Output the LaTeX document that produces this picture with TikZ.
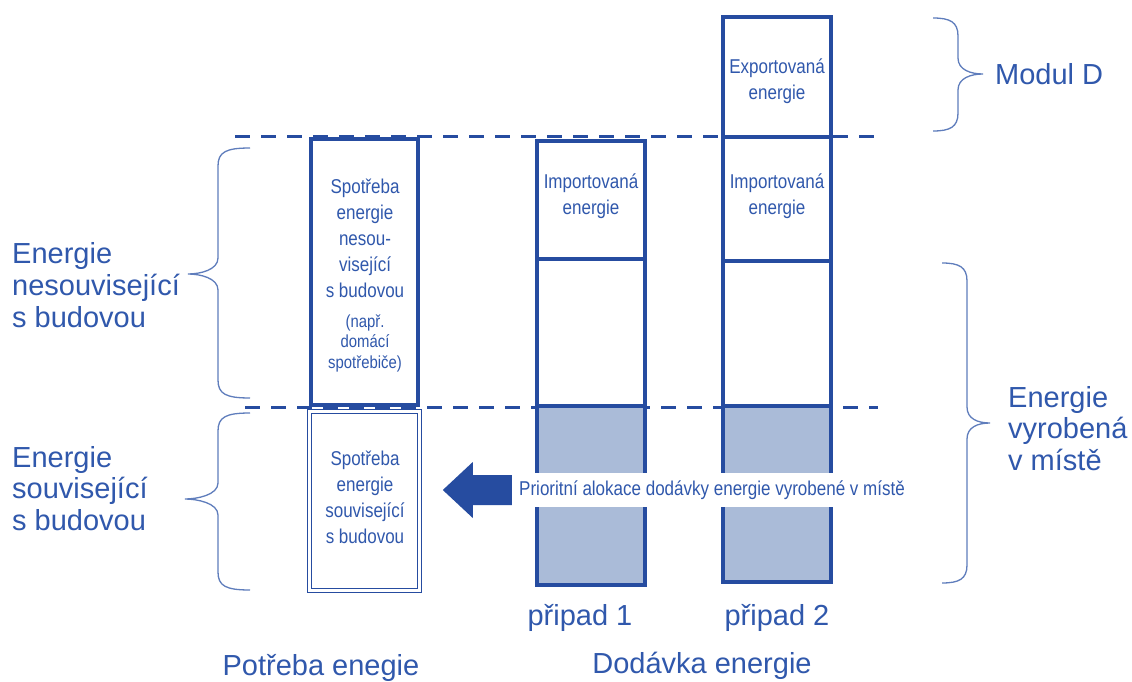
\documentclass[tikz,border=0pt]{standalone}
\usepackage{fontspec}
\setmainfont{Liberation Sans}
\newfontfamily\narrowfont[FakeStretch=0.85]{Liberation Sans}
\definecolor{lc}{RGB}{38,76,160}
\definecolor{tc}{RGB}{48,88,172}
\definecolor{fc}{RGB}{170,187,216}
\definecolor{bc}{RGB}{95,125,188}
\newcommand\myBraceL[6]{%
  \draw[brace] (#1,#4) .. controls (#2+8,#4) and (#2,#4+4) .. (#2,#4+18)
    -- (#2,#5-16) .. controls (#2,#5-4) and (#3+12,#5) .. (#3,#5)
    .. controls (#3+12,#5) and (#2,#5+4) .. (#2,#5+16)
    -- (#2,#6-18) .. controls (#2,#6-4) and (#2+8,#6) .. (#1,#6);}
\newcommand\myBraceR[6]{%
  \draw[brace] (#1,#4) .. controls (#2-8,#4) and (#2,#4+4) .. (#2,#4+18)
    -- (#2,#5-16) .. controls (#2,#5-4) and (#3-12,#5) .. (#3,#5)
    .. controls (#3-12,#5) and (#2,#5+4) .. (#2,#5+16)
    -- (#2,#6-18) .. controls (#2,#6-4) and (#2-8,#6) .. (#1,#6);}
\begin{document}
\begin{tikzpicture}[x=1pt,y=-1pt,
  colbox/.style={draw=lc,line width=4.4pt,fill=white,inner sep=0pt},
  genbox/.style={draw=lc,line width=4.4pt,fill=fc,inner sep=0pt},
  dblbox/.style={draw=lc,double=white,line width=1.4pt,double distance=2.4pt,inner sep=0pt},
  dline/.style={draw=lc,line width=3pt,dash pattern=on 15pt off 11pt},
  brace/.style={draw=bc,line width=1.3pt},
  big/.style={text=tc,font=\fontsize{29}{32}\selectfont,inner sep=0pt},
  small/.style={text=tc,font=\narrowfont\fontsize{20}{26}\selectfont,inner sep=0pt,align=center},
  note/.style={text=tc,font=\narrowfont\fontsize{17.5}{20.5}\selectfont,inner sep=0pt,align=center},
]
\useasboundingbox[fill=white] (0,0) rectangle (1132,682);

% dashed level lines
\draw[dline] (235,137) -- (875,137);
\draw[dline] (245,407) -- (878,407);

% column 1: demand
\node[colbox,minimum width=107pt,minimum height=266pt] (nonbld) at (364.5,272) {};
\node[dblbox,minimum width=110pt,minimum height=179pt] (bld) at (364.5,501) {};

% case 1
\node[colbox,minimum width=108pt,minimum height=118pt] (imp1) at (591,200) {};
\node[colbox,minimum width=108pt,minimum height=147pt] (mid1) at (591,332.5) {};
\node[genbox,minimum width=108pt,minimum height=179pt] (gen1) at (591,495.5) {};

% case 2
\node[colbox,minimum width=108pt,minimum height=120pt] (exp2) at (777,77) {};
\node[colbox,minimum width=108pt,minimum height=124pt] (imp2) at (777,199) {};
\node[colbox,minimum width=108pt,minimum height=145pt] (mid2) at (777,333.5) {};
\node[genbox,minimum width=108pt,minimum height=176pt] (gen2) at (777,494) {};

% texts in boxes
\node[small] (t1) at (365,238) {Spotřeba\\energie\\nesou-\\visející\\s budovou};
\node[note] (t1n) at (365,343) {(např.\\domácí\\spotřebiče)};
\node[small] (t2) at (365,497) {Spotřeba\\energie\\související\\s budovou};
\node[small] (t3) at (591,196) {Importovaná\\energie};
\node[small] (t4) at (777,196) {Importovaná\\energie};
\node[small] (t5) at (777,81) {Exportovaná\\energie};

% priority allocation arrow
\node[small,fill=white,minimum width=400pt,minimum height=34pt] (prio) at (712,490)
  {Prioritní alokace dodávky energie vyrobené v místě};
\fill[lc] (prio.west) ++(0,-15) -- ++(-39,0) -- ++(0,-13) -- ++(-30,28)
  -- ++(30,28) -- ++(0,-13) -- ++(39,0) -- cycle;

% braces
\myBraceL{250}{218}{188}{148}{274}{398}
\myBraceL{250}{218}{185}{413}{499}{590}
\myBraceR{933}{958}{983}{18}{74}{131}
\myBraceR{942}{967}{990}{263}{423}{583}

% big labels
\node[big,anchor=base west] (a1) at (12,263) {Energie};
\node[big,anchor=base west] (a2) at (12,295) {nesouvisející};
\node[big,anchor=base west] (a3) at (12,327) {s budovou};
\node[big,anchor=base west] (b1) at (12,467) {Energie};
\node[big,anchor=base west] (b2) at (12,498) {související};
\node[big,anchor=base west] (b3) at (12,530) {s budovou};
\node[big,anchor=base west] (md) at (995,85) {Modul D};
\node[big,anchor=base west] (c1) at (1008,407) {Energie};
\node[big,anchor=base west] (c2) at (1008,438) {vyrobená};
\node[big,anchor=base west] (c3) at (1008,470) {v místě};
\node[big,anchor=base] (p1) at (580,625) {připad 1};
\node[big,anchor=base] (p2) at (777,625) {připad 2};
\node[big,anchor=base] (dod) at (702,673) {Dodávka energie};
\node[big,anchor=base] (pot) at (321,675) {Potřeba enegie};
\end{tikzpicture}
\end{document}
